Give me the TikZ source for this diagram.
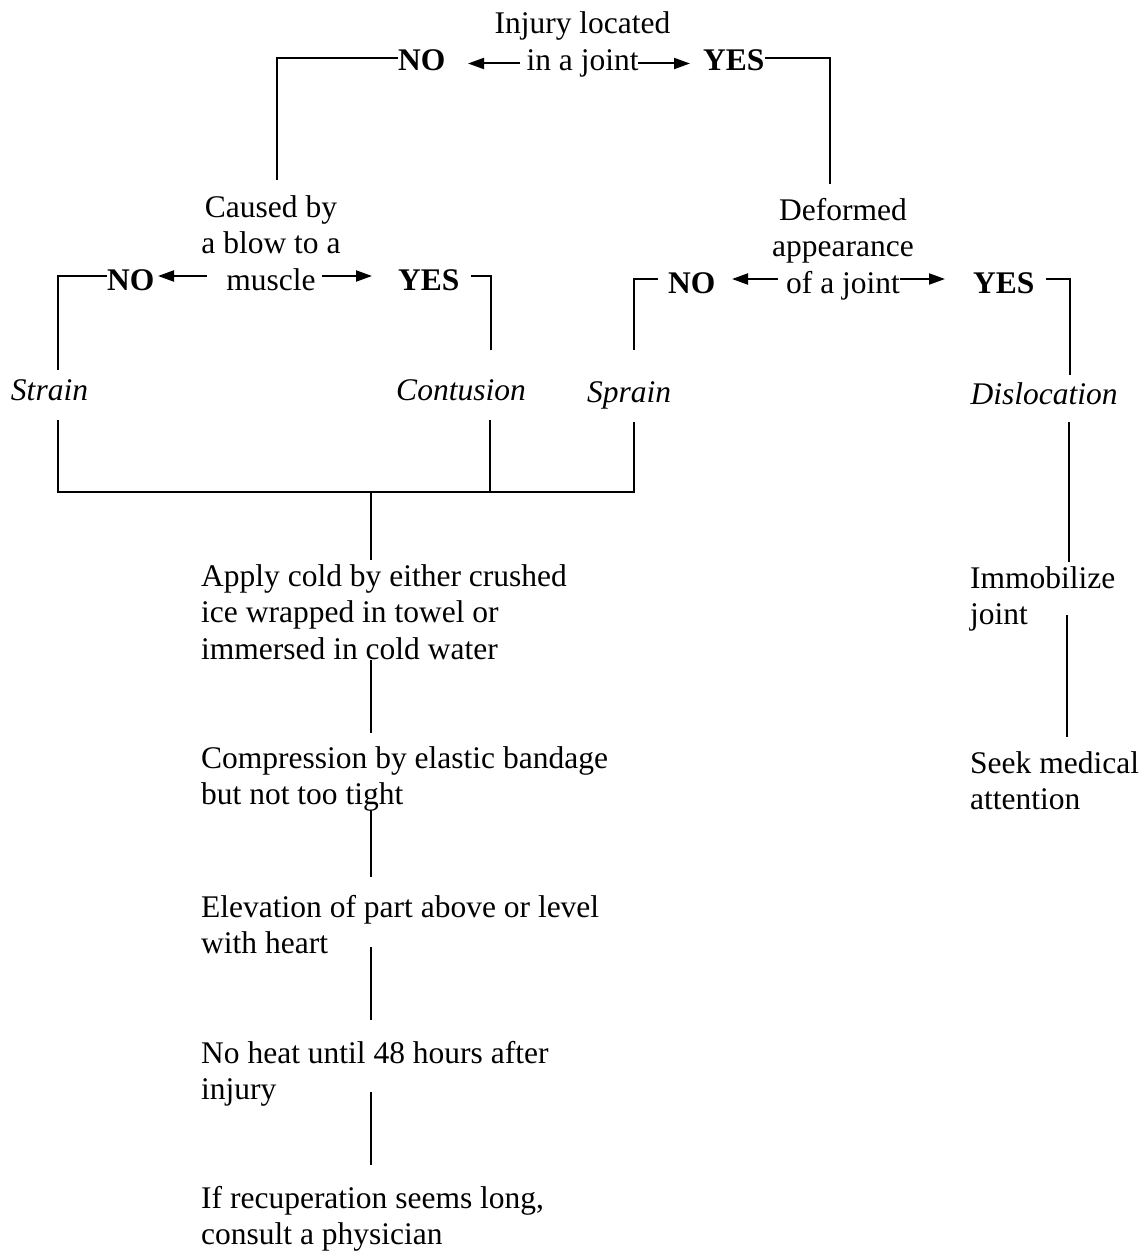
\documentclass[tikz,border=0pt]{standalone}
\usepackage{fontspec}
\setmainfont{Liberation Serif}
\usetikzlibrary{arrows.meta,calc}
% a block of lines whose base anchor is the baseline of its first line
\newcommand{\flowtext}[2]{\begin{tabular}[t]{@{}#1@{}}#2\end{tabular}}
\begin{document}
\begin{tikzpicture}[x=1pt,y=-1pt,
  every node/.style={inner sep=0pt, font=\fontsize{31.5}{36.5}\selectfont},
  lbl/.style={anchor=base west},
  ctr/.style={anchor=base},
  ans/.style={anchor=base west, font=\fontsize{31.5}{36.5}\selectfont\bfseries},
  diag/.style={anchor=base, font=\fontsize{31.5}{36.5}\selectfont\itshape},
  link/.style={line width=2pt},
  arr/.style={line width=2pt, -{Triangle[length=16pt,width=11pt]}}
]
\useasboundingbox (0,0) rectangle (1147,1255);

% questions and answers
\node[ctr] (q1) at (582.5,34) {\flowtext{c}{Injury located\\in a joint}};
\node[ans] (no1) at (398,70.5) {\flowtext{l}{NO}};
\node[ans] (yes1) at (703,70.5) {\flowtext{l}{YES}};

\node[ctr] (cause) at (271,217) {\flowtext{c}{Caused by\\a blow to a\\muscle}};
\node[ans] (no2) at (107,290) {\flowtext{l}{NO}};
\node[ans] (yes2) at (398,290) {\flowtext{l}{YES}};

\node[ctr] (deformed) at (843,220) {\flowtext{c}{Deformed\\appearance\\of a joint}};
\node[ans] (no3) at (668,293) {\flowtext{l}{NO}};
\node[ans] (yes3) at (973,293) {\flowtext{l}{YES}};

% diagnoses
\node[diag] (strain) at (49.5,400) {\flowtext{l}{Strain}};
\node[diag] (contusion) at (461,400) {\flowtext{l}{Contusion}};
\node[diag] (sprain) at (629,402) {\flowtext{l}{Sprain}};
\node[diag] (disloc) at (1044,404) {\flowtext{l}{Dislocation}};

% treatment steps
\node[lbl] (immob) at (970,588) {\flowtext{l}{Immobilize\\joint}};
\node[lbl] (seek) at (970,773) {\flowtext{l}{Seek medical\\attention}};

\node[lbl] (apply) at (201,586) {\flowtext{l}{Apply cold by either crushed\\ice wrapped in towel or\\immersed in cold water}};
\node[lbl] (compress) at (201,768) {\flowtext{l}{Compression by elastic bandage\\but not too tight}};
\node[lbl] (elevate) at (201,917) {\flowtext{l}{Elevation of part above or level\\with heart}};
\node[lbl] (noheat) at (201,1063) {\flowtext{l}{No heat until 48 hours after\\injury}};
\node[lbl] (recup) at (201,1208) {\flowtext{l}{If recuperation seems long,\\consult a physician}};

\coordinate (join) at (371,492);

% first question
\draw[arr] ($(q1.base)+(-62.5,29.5)$) -- ++(-52,0);
\draw[arr] ($(q1.base)+(55.5,29.5)$) -- ++(52,0);
\draw[link] ([yshift=4.7pt]no1.west) -| ([xshift=6pt,yshift=11.5pt]cause.north);
\draw[link] ([yshift=4.7pt]yes1.east) -| ([xshift=-13pt,yshift=10pt]deformed.north);

% second question, left
\draw[arr] ($(cause.base)+(-64,59)$) -- ++(-49,0);
\draw[arr] ($(cause.base)+(51,59)$) -- ++(50,0);
\draw[link] ([yshift=6.7pt]no2.west) -| ([xshift=8.5pt,yshift=4.5pt]strain.north);
\draw[link] ([xshift=11pt,yshift=6.7pt]yes2.east) -| ([xshift=30pt,yshift=24.5pt]contusion.north);

% second question, right
\draw[arr] ($(deformed.base)+(-65,59)$) -- ++(-46,0);
\draw[arr] ($(deformed.base)+(57,59)$) -- ++(45,0);
\draw[link] ([xshift=-10pt,yshift=6.7pt]no3.west) -| ([xshift=5pt,yshift=26.5pt]sprain.north);
\draw[link] ([xshift=11pt,yshift=6.7pt]yes3.east) -| ([xshift=26pt,yshift=3.5pt]disloc.north);

% strain, contusion and sprain share one treatment
\draw[link] ([xshift=8.5pt,yshift=-9pt]strain.south) |- (join) -| ([xshift=5pt,yshift=-9pt]sprain.south);
\draw[link] ([xshift=29pt,yshift=-9pt]contusion.south) -- ([xshift=29pt]contusion.south |- join);
\draw[link] (join) -- (join |- apply.north);

\draw[link] ([yshift=10pt]apply.south -| join) -- ([yshift=9.5pt]compress.north -| join);
\draw[link] ([yshift=5.5pt]compress.south -| join) -- ([yshift=14.5pt]elevate.north -| join);
\draw[link] ([yshift=17.5pt]elevate.south -| join) -- ([yshift=17.5pt]noheat.north -| join);
\draw[link] ([yshift=18.5pt]noheat.south -| join) -- ([yshift=17.5pt]recup.north -| join);

% dislocation
\draw[link] ([xshift=24.5pt,yshift=-7pt]disloc.south) -- ([xshift=24.5pt]disloc.south |- immob.north);
\draw[link] ([xshift=22.5pt,yshift=20.5pt]disloc.south |- immob.south) -- ([xshift=22.5pt,yshift=10.5pt]disloc.south |- seek.north);
\end{tikzpicture}
\end{document}
